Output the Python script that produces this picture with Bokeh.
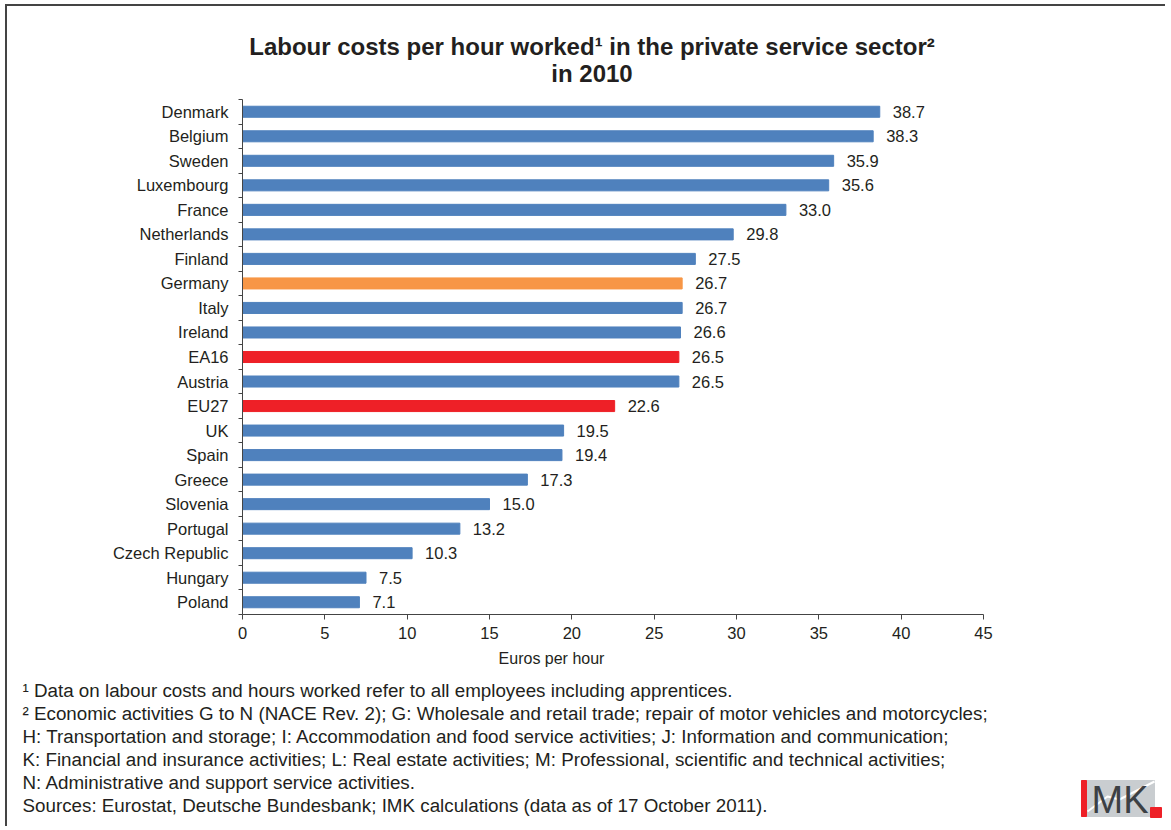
from bokeh.plotting import figure
from bokeh.models import (ColumnDataSource, Range1d, FixedTicker, Label)
from bokeh.embed import file_html
from bokeh.resources import INLINE

# ---- data (top to bottom) ----
countries = ["Denmark", "Belgium", "Sweden", "Luxembourg", "France", "Netherlands",
             "Finland", "Germany", "Italy", "Ireland", "EA16", "Austria", "EU27",
             "UK", "Spain", "Greece", "Slovenia", "Portugal", "Czech Republic",
             "Hungary", "Poland"]
costs = [38.7, 38.3, 35.9, 35.6, 33.0, 29.8, 27.5, 26.7, 26.7, 26.6, 26.5, 26.5,
         22.6, 19.5, 19.4, 17.3, 15.0, 13.2, 10.3, 7.5, 7.1]
x_ticks = [0, 5, 10, 15, 20, 25, 30, 35, 40, 45]

title_line1 = "Labour costs per hour worked\u00b9 in the private service sector\u00b2"
title_line2 = "in 2010"
x_label = "Euros per hour"
footnotes = [
    "\u00b9 Data on labour costs and hours worked refer to all employees including apprentices.",
    "\u00b2 Economic activities G to N (NACE Rev. 2); G: Wholesale and retail trade; repair of motor vehicles and motorcycles;",
    "H: Transportation and storage; I: Accommodation and food service activities; J: Information and communication;",
    "K: Financial and insurance activities; L: Real estate activities; M: Professional, scientific and technical activities;",
    "N: Administrative and support service activities.",
    "Sources: Eurostat, Deutsche Bundesbank; IMK calculations (data as of 17 October 2011).",
]

BLUE = "#4F81BD"
ORANGE = "#F79646"
RED = "#EE2027"
TXT = "#231F20"
FONT = "Liberation Sans"
BORDER = "2px solid #444444"

W = 1160
HH = 88
H1 = 556
H2 = 178


def blank(h, top=False):
    b = figure(width=W, height=h, output_backend="svg", toolbar_location=None,
               x_range=Range1d(0, W), y_range=Range1d(0, h),
               x_axis_location=None, y_axis_location=None,
               min_border=0, min_border_left=0, min_border_right=0,
               min_border_top=0, min_border_bottom=0)
    b.grid.grid_line_color = None
    b.outline_line_color = None
    b.background_fill_color = "white"
    b.border_fill_color = "white"
    st = {"border-left": BORDER, "margin-left": "5px"}
    if top:
        st.update({"border-top": BORDER, "margin-top": "4px"})
    b.styles = st
    return b


def slabel(fig, x, y, text, size, color=TXT, align="left", bold=False, font=FONT):
    fig.add_layout(Label(x=x, y=y, x_units="screen", y_units="screen", text=text,
                         text_align=align, text_baseline="middle", text_font=font,
                         text_font_size=size, text_color=color,
                         text_font_style="bold" if bold else "normal"))


# ---- header ----
hdr = blank(HH, top=True)
slabel(hdr, 584.5, 48, title_line1, "24px", align="center", bold=True)
slabel(hdr, 584.5, 21, title_line2, "24px", align="center", bold=True)

# ---- main chart ----
n = len(countries)
ypos = [n - 1 - i for i in range(n)]
colors = [ORANGE if c == "Germany" else (RED if c in ("EA16", "EU27") else BLUE) for c in countries]
labels = ["%.1f" % v for v in costs]
src = ColumnDataSource(dict(y=ypos, v=costs, c=colors, lab=labels))

p = figure(width=W, height=H1, output_backend="svg", toolbar_location=None,
           x_range=Range1d(0, 45), y_range=Range1d(-0.5, n - 0.5),
           min_border_left=235, min_border_right=184, min_border_top=7, min_border_bottom=34)
p.styles = {"border-left": BORDER, "margin-left": "5px"}
p.outline_line_color = None
p.grid.grid_line_color = None
p.background_fill_color = "white"
p.border_fill_color = "white"

p.hbar(y="y", right="v", left=0, height=0.45, color="c", source=src)
p.text(x="v", y="y", text="lab", source=src, x_offset=13, text_baseline="middle",
       text_align="left", text_font_size="16.5px", text_color=TXT, text_font={"value": FONT})

xa = p.xaxis[0]
xa.ticker = FixedTicker(ticks=x_ticks)
xa.axis_line_color = "#444444"
xa.major_tick_line_color = "#444444"
xa.major_tick_in = 0
xa.major_tick_out = 5
xa.minor_tick_line_color = None
xa.major_label_text_font = FONT
xa.major_label_text_font_size = "16.5px"
xa.major_label_text_color = TXT
xa.major_label_standoff = 7

ya = p.yaxis[0]
ya.ticker = FixedTicker(ticks=ypos, minor_ticks=[k - 0.5 for k in range(n + 1)])
ya.major_label_overrides = {y: c for y, c in zip(ypos, countries)}
ya.axis_line_color = "#444444"
ya.major_tick_line_color = None
ya.major_tick_in = 0
ya.major_tick_out = 0
ya.minor_tick_line_color = "#444444"
ya.minor_tick_in = 0
ya.minor_tick_out = 4
ya.major_label_standoff = 10
ya.major_label_text_font = FONT
ya.major_label_text_font_size = "16.5px"
ya.major_label_text_color = TXT

# ---- footer: axis title, footnotes, logo ----
f = blank(H2)
slabel(f, 544, 168, x_label, "16px", align="center")
for i, t in enumerate(footnotes):
    slabel(f, 15, 136 - 23 * i, t, "18.8px")

# IMK logo (decoration)
f.quad(left=[1074], right=[1147], bottom=[10], top=[46], color="#C9CDD0")
f.line(x=[1080, 1100, 1112, 1147], y=[15, 30, 27, 45], line_color="white", line_width=2)
f.quad(left=[1074], right=[1079], bottom=[10], top=[46], color=RED)
f.quad(left=[1143], right=[1154], bottom=[9], top=[19], color=RED)
slabel(f, 1076.5, 28, "I", "40px", color=RED, align="center")
slabel(f, 1084, 27, "MK", "38px", color="#3C4044")

open("out.html", "w").write(file_html([hdr, p, f], INLINE))
